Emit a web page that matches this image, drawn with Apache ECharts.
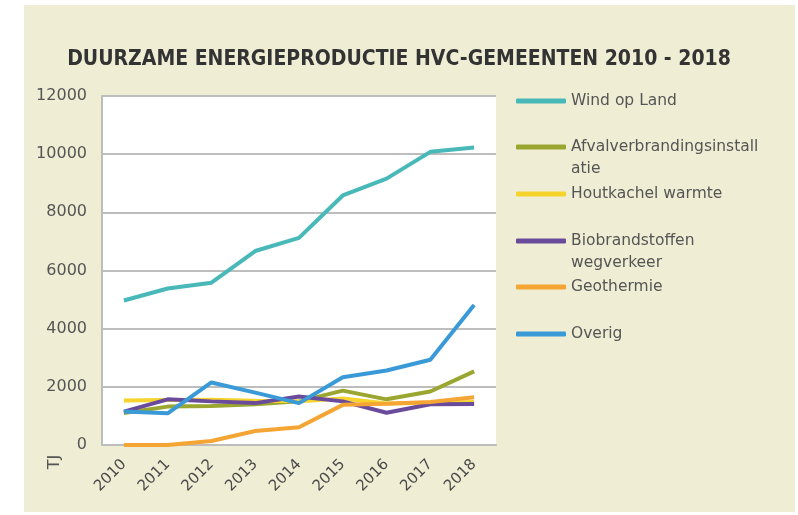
<!DOCTYPE html>
<html>
<head>
<meta charset="utf-8">
<script src="https://cdn.jsdelivr.net/npm/echarts@6/dist/echarts.min.js"></script>
<style>
  html, body { margin: 0; padding: 0; background: #fff; }
  #chart { width: 798px; height: 515px; }
</style>
</head>
<body>
<div id="chart"></div>
<script>
// jaren en waarden (TJ)
var jaren = ['2010', '2011', '2012', '2013', '2014', '2015', '2016', '2017', '2018'];
var windOpLand = [4970, 5380, 5580, 6670, 7120, 8580, 9160, 10080, 10230];
var afval = [1100, 1320, 1340, 1400, 1500, 1870, 1570, 1840, 2530];
var houtkachel = [1530, 1550, 1560, 1520, 1500, 1600, 1430, 1450, 1480];
var biobrandstof = [1150, 1570, 1500, 1440, 1670, 1500, 1110, 1400, 1410];
var geothermie = [0, 0, 140, 480, 610, 1380, 1420, 1480, 1640];
var overig = [1150, 1090, 2150, 1800, 1440, 2330, 2560, 2930, 4810];

var namen = ['Wind op Land', 'Afvalverbrandingsinstallatie', 'Houtkachel warmte',
             'Biobrandstoffen wegverkeer', 'Geothermie', 'Overig'];
// lege eerste regel: dan staat het icoon naast de eerste tekstregel
var labels = ['Wind op Land', '\nAfvalverbrandingsinstall\natie', 'Houtkachel warmte',
              '\nBiobrandstoffen\nwegverkeer', 'Geothermie', 'Overig'];
var kleuren = ['#48b9b8', '#9aa630', '#f6d42c', '#6a4b9b', '#f5a533', '#3a9ad8'];
var waarden = [windOpLand, afval, houtkachel, biobrandstof, geothermie, overig];

var font = 'DejaVu Sans';

var chart = echarts.init(document.getElementById('chart'));

var series = namen.map(function (n, i) {
    return {
        name: n,
        type: 'line',
        data: waarden[i],
        symbol: 'none',
        lineStyle: { width: 4, color: kleuren[i] },
        itemStyle: { color: kleuren[i] }
    };
});

// elke legenda-regel apart, zodat de afstanden gelijk blijven
var legendTops = [100, 146, 193, 240, 286, 333];
var legends = namen.map(function (n, i) {
    var twee = labels[i].indexOf('\n') >= 0;
    return {
        orient: 'vertical',
        left: 516,
        top: legendTops[i] - (twee ? 33 : 11) + 1,
        padding: 0,
        itemWidth: 50,
        itemHeight: 5,
        itemGap: 0,
        icon: 'roundRect',
        selectedMode: false,
        formatter: function () { return labels[i]; },
        textStyle: {
            color: '#555',
            fontSize: 15.5,
            fontFamily: font,
            lineHeight: 22
        },
        data: [n]
    };
});

var option = {
    backgroundColor: '#fff',
    animation: false,
    title: {
        text: 'DUURZAME ENERGIEPRODUCTIE HVC-GEMEENTEN 2010 - 2018',
        left: 'center',
        top: 44,
        textStyle: {
            color: '#333',
            fontSize: 21,
            fontWeight: 'bold',
            fontFamily: 'DejaVu Sans Condensed'
        }
    },
    graphic: [
        {
            type: 'rect',
            z: -10,
            shape: { x: 24, y: 5, width: 771, height: 507 },
            style: { fill: '#efeed5' }
        },
        {
            type: 'text',
            x: 55,
            y: 462,
            rotation: Math.PI / 2,
            style: {
                text: 'TJ',
                fill: '#555',
                fontSize: 16,
                fontFamily: font,
                align: 'center',
                verticalAlign: 'middle'
            }
        }
    ],
    legend: legends,
    grid: {
        left: 102,
        right: 302,
        top: 96,
        bottom: 70,
        show: true,
        backgroundColor: '#fff',
        borderWidth: 0
    },
    xAxis: {
        type: 'category',
        data: jaren,
        boundaryGap: true,
        axisLine: { lineStyle: { color: '#bdbdbd', width: 2 } },
        axisTick: { inside: true, length: 5, lineStyle: { color: '#bdbdbd', width: 1.5 } },
        axisLabel: {
            rotate: 45,
            color: '#4a4a4a',
            fontSize: 15,
            fontFamily: font,
            margin: 17
        }
    },
    yAxis: {
        type: 'value',
        min: 0,
        max: 12000,
        interval: 2000,
        axisLine: { show: true, lineStyle: { color: '#bdbdbd', width: 2 } },
        axisTick: { show: false },
        splitLine: { lineStyle: { color: '#bdbdbd', width: 2 } },
        axisLabel: {
            color: '#555',
            fontSize: 16,
            fontFamily: font,
            margin: 15,
            formatter: function (v) { return String(v); }
        }
    },
    series: series
};

chart.setOption(option);
</script>
</body>
</html>
